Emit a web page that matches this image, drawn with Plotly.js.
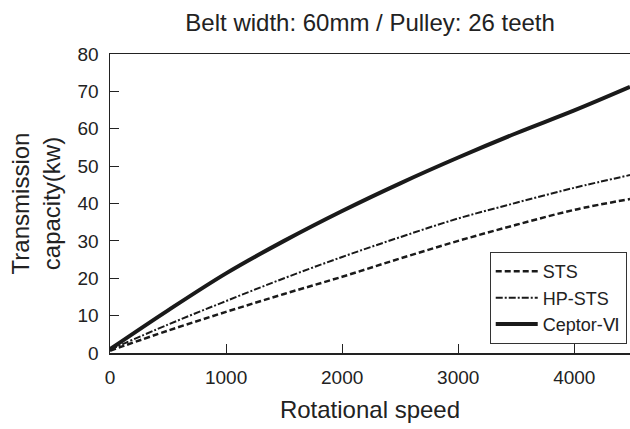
<!DOCTYPE html>
<html>
<head>
<meta charset="utf-8">
<script src="https://cdn.plot.ly/plotly-3.0.1.min.js"></script>
<style>html,body{margin:0;padding:0;background:#fff;}#chart{width:630px;height:429px;}</style>
</head>
<body>
<div id="chart"></div>
<script>
const speed = [0, 500, 1000, 1500, 2000, 2500, 3000, 3500, 4000, 4480];
const sts = [0.6, 6.0, 11.0, 15.8, 20.4, 25.3, 30.0, 34.3, 38.3, 41.2];
const hpSts = [0.9, 7.6, 13.9, 20.0, 25.7, 31.0, 36.0, 40.2, 44.2, 47.6];
const ceptor = [1.0, 11.4, 21.3, 30.0, 38.0, 45.4, 52.3, 58.8, 64.9, 71.2];
const seriesNames = ['STS', 'HP-STS', 'Ceptor-Ⅵ'];
const xTicks = [0, 1000, 2000, 3000, 4000];
const yTicks = [0, 10, 20, 30, 40, 50, 60, 70, 80];

const font = 'Liberation Sans, Arial, Helvetica, sans-serif';
const traces = [
  {x: speed, y: sts, name: seriesNames[0], mode: 'lines',
   line: {color: '#1a1a1a', width: 2.5, dash: '6px,3px', shape: 'spline'}},
  {x: speed, y: hpSts, name: seriesNames[1], mode: 'lines',
   line: {color: '#1a1a1a', width: 2, dash: '7px,2px,2px,2px', shape: 'spline'}},
  {x: speed, y: ceptor, name: seriesNames[2], mode: 'lines',
   line: {color: '#1a1a1a', width: 4, shape: 'spline'}}
];
const layout = {
  width: 630, height: 429,
  margin: {l: 110, r: 0, t: 54, b: 76},
  paper_bgcolor: '#fff', plot_bgcolor: '#fff',
  font: {family: font, color: '#222', size: 19},
  showlegend: true,
  title: {text: 'Belt width: 60mm / Pulley: 26 teeth', font: {size: 24, color: '#222'},
          x: 0.5875, xanchor: 'center', y: 0.948, yanchor: 'middle'},
  xaxis: {range: [0, 4480], tickvals: xTicks, ticktext: xTicks.map(String),
          ticks: 'inside', ticklen: 9, tickcolor: '#222', showgrid: false, zeroline: false,
          showline: true, linecolor: '#222', linewidth: 1.5, mirror: true,
          ticklabelstandoff: 7,
          tickfont: {size: 19}, title: {text: 'Rotational speed', font: {size: 24}, standoff: 14}},
  yaxis: {range: [0, 80], tickvals: yTicks, ticktext: yTicks.map(String),
          ticks: 'inside', ticklen: 9, tickcolor: '#222', showgrid: false, zeroline: false,
          showline: true, linecolor: '#222', linewidth: 1.5,
          ticklabelstandoff: 6,
          tickfont: {size: 19}, title: {text: 'Transmission<br>capacity(kw)', font: {size: 24}, standoff: 10}},
  legend: {x: 0.9937, xanchor: 'right', y: 0.03, yanchor: 'bottom',
           bordercolor: '#333', borderwidth: 1, bgcolor: '#fff',
           font: {size: 18, color: '#222'}, tracegroupgap: 0, itemwidth: 42}
};
Plotly.newPlot('chart', traces, layout, {displayModeBar: false, staticPlot: true});
</script>
</body>
</html>
